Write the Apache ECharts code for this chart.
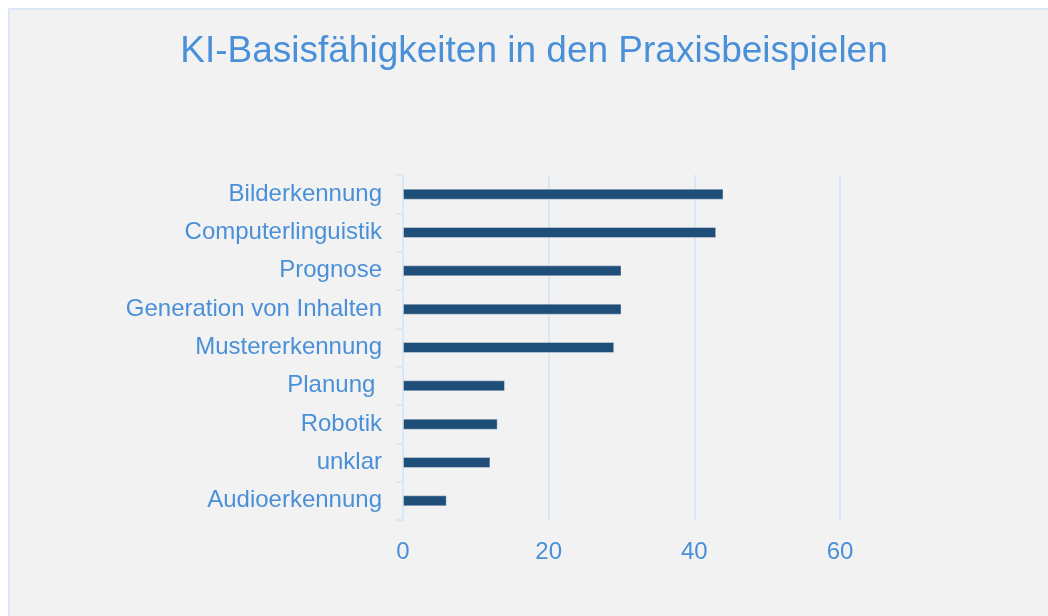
<!DOCTYPE html>
<html>
<head>
<meta charset="utf-8">
<script src="https://cdn.jsdelivr.net/npm/echarts@6/dist/echarts.min.js"></script>
<style>
  html, body { margin: 0; padding: 0; background: #ffffff; overflow: hidden; }
  #main {
    position: absolute; left: 8px; top: 8px;
    width: 1048px; height: 616px;
    border-left: 2px solid #dbe7f5; border-top: 2px solid #dbe7f5;
  }
</style>
</head>
<body>
<div id="main"></div>
<script>
var myChart = echarts.init(document.getElementById('main'));

var titleText = 'KI-Basisfähigkeiten in den Praxisbeispielen';
// von unten nach oben (ECharts zeichnet Kategorien von unten)
var categories = ['Audioerkennung', 'unklar', 'Robotik', 'Planung ', 'Mustererkennung',
                  'Generation von Inhalten', 'Prognose', 'Computerlinguistik', 'Bilderkennung'];
var values = [6, 12, 13, 14, 29, 30, 30, 43, 44];
var xTicks = [0, 20, 40, 60];

var blueText = '#4a90d9';
var lineColor = '#dae7f4';

option = {
    backgroundColor: '#f2f2f2',
    textStyle: { fontFamily: 'Liberation Sans, Arial, sans-serif' },
    title: {
        text: titleText,
        left: 'center',
        top: 18,
        textStyle: {
            color: blueText,
            fontSize: 37,
            fontWeight: 'normal',
            fontFamily: 'Liberation Sans, Arial, sans-serif'
        }
    },
    grid: {
        left: 393,
        right: 218,
        top: 165,
        bottom: 106,
        containLabel: false
    },
    xAxis: {
        type: 'value',
        min: xTicks[0],
        max: xTicks[xTicks.length - 1],
        interval: 20,
        axisLine: { show: false },
        axisTick: { show: false },
        axisLabel: {
            color: blueText,
            fontSize: 24,
            margin: 20
        },
        splitLine: {
            show: true,
            lineStyle: { color: lineColor, width: 2 }
        }
    },
    yAxis: {
        type: 'category',
        data: categories,
        axisLine: {
            show: true,
            lineStyle: { color: lineColor, width: 2 }
        },
        axisTick: {
            show: true,
            length: 7,
            lineStyle: { color: lineColor, width: 2 }
        },
        axisLabel: {
            color: blueText,
            fontSize: 24,
            margin: 21
        }
    },
    series: [{
        name: 'Anzahl',
        type: 'bar',
        data: values,
        barWidth: 11,
        itemStyle: {
            color: '#1f4e79',
            borderColor: 'rgba(255,255,255,0.35)',
            borderWidth: 1
        }
    }]
};

myChart.setOption(option);
</script>
</body>
</html>
